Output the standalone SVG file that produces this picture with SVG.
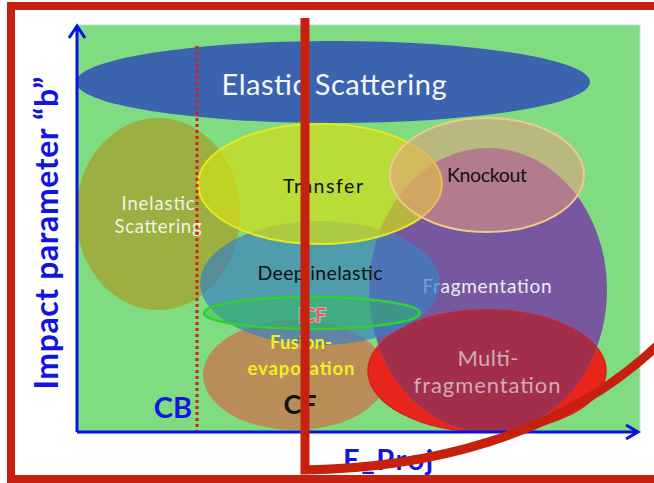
<svg xmlns="http://www.w3.org/2000/svg" width="654" height="483" viewBox="0 0 654 483">
  <defs>
    <style>
      text { font-family: Lato, "Open Sans", "Liberation Sans", sans-serif; }
      .axis { stroke: #0a12e0; stroke-width: 3; fill: none; }
      .axlabel { fill: #1414e0; font-weight: bold; }
      .blk { fill: #111111; font-size: 19.5px; }
      .red { stroke: #c8200e; fill: none; }
    </style>
    <clipPath id="multiClip">
      <ellipse cx="487" cy="371" rx="119" ry="61"/>
    </clipPath>
  </defs>

  <rect width="654" height="483" fill="#ffffff"/>

  <!-- plot background -->
  <rect id="plot" x="77" y="25" width="563" height="407" fill="#80dc80" stroke="#c4d8f0" stroke-width="1"/>

  <g id="elastic">
    <ellipse cx="333" cy="82" rx="257" ry="41" fill="#3b63ae"/>
    <text x="334" y="95" font-size="29" fill="#f4f6fa" text-anchor="middle" textLength="225">Elastic Scattering</text>
  </g>

  <g id="inelastic">
    <ellipse cx="158" cy="214" rx="82" ry="96" fill="#9cad3c" opacity="0.95"/>
  </g>

  <g id="fragmentation">
    <ellipse cx="488" cy="290" rx="119" ry="142" fill="#7757a0"/>
  </g>

  <g id="cf">
    <ellipse cx="295" cy="375" rx="92" ry="55" fill="#b98d58"/>
  </g>

  <g id="multifragmentation">
    <ellipse cx="487" cy="371" rx="119" ry="61" fill="#e8261c" stroke="#d8201a" stroke-width="1.5"/>
    <ellipse cx="488" cy="290" rx="119" ry="142" fill="#a22e4a" clip-path="url(#multiClip)"/>
    <ellipse cx="488" cy="290" rx="119" ry="142" fill="none" stroke="#8a4a8a" stroke-width="1" opacity="0.6" clip-path="url(#multiClip)"/>
  </g>

  <text x="487" y="293" font-size="19" fill="#ececf4" text-anchor="middle" textLength="129">Fragmentation</text>

  <g id="deepinelastic">
    <ellipse cx="320" cy="283" rx="120" ry="62" fill="#3a80c0" opacity="0.7"/>
  </g>

  <g id="icf">
    <ellipse cx="312" cy="313" rx="108" ry="16" fill="#30c050" fill-opacity="0.45" stroke="#30d030" stroke-width="2.5"/>
  </g>

  <g id="transfer">
    <ellipse cx="320" cy="184" rx="122" ry="60" fill="#d0dc19" fill-opacity="0.72" stroke="#e8e820" stroke-width="2"/>
  </g>

  <g id="knockout">
    <ellipse cx="487" cy="175" rx="97" ry="57" fill="#e69a80" fill-opacity="0.55" stroke="#f0c890" stroke-width="2"/>
  </g>

  <!-- labels -->
  <g id="labels">
    <text x="158" y="210" font-size="18.5" fill="#f2f2e6" text-anchor="middle" textLength="73">Inelastic</text>
    <text x="158" y="233" font-size="18.5" fill="#f2f2e6" text-anchor="middle" textLength="87">Scattering</text>
    <text x="323" y="193" class="blk" text-anchor="middle" textLength="80">Transfer</text>
    <text x="487" y="182" class="blk" text-anchor="middle" textLength="80">Knockout</text>
    <text x="320" y="280" class="blk" font-size="19" text-anchor="middle" textLength="125">Deep inelastic</text>
    <text x="312" y="322" font-size="18" font-weight="bold" fill="#e85a5a" stroke="#ffd0d0" stroke-width="2" stroke-opacity="0.6" paint-order="stroke" text-anchor="middle">ICF</text>
    <text x="301" y="349" font-size="18.5" font-weight="bold" fill="#f2f020" text-anchor="middle" textLength="62">Fusion-</text>
    <text x="301" y="375" font-size="18.5" font-weight="bold" fill="#f2f020" text-anchor="middle" textLength="107">evaporation</text>
    <text x="300" y="414" font-size="27" font-weight="bold" fill="#111111" text-anchor="middle">CF</text>
    <text x="488" y="366" font-size="22" fill="#d2aab8" text-anchor="middle" textLength="61">Multi-</text>
    <text x="487" y="393" font-size="22" fill="#d2aab8" text-anchor="middle" textLength="147">fragmentation</text>
  </g>

  <!-- Coulomb barrier line -->
  <line x1="197" y1="46" x2="197" y2="432" stroke="#d42020" stroke-width="3" stroke-dasharray="3 3"/>

  <!-- axes -->
  <g id="axes">
    <path class="axis" d="M77,432 V27 M69,38 L77,26 L85,38"/>
    <path class="axis" d="M77,432 H637 M626,425 L638,432 L626,439"/>
  </g>

  <text x="173" y="418" class="axlabel" font-size="29" text-anchor="middle">CB</text>
  <text x="343" y="470" class="axlabel" font-size="29" textLength="90">E_Proj</text>
  <text transform="translate(58,233) rotate(-90)" class="axlabel" font-size="32" text-anchor="middle" textLength="313">Impact parameter “b”</text>

  <!-- red overlay annotations -->
  <g id="overlay">
    <rect class="red" x="11" y="6" width="700" height="473" stroke-width="8"/>
    <path class="red" d="M305,18 L305,470 C420,468 560,440 660,343" stroke-width="9" stroke-linejoin="miter"/>
  </g>
</svg>
